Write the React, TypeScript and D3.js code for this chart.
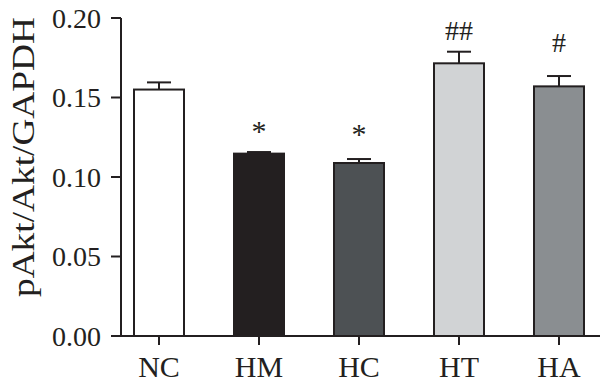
import React from 'react';
import * as d3 from 'd3';

// group labels, means, upper error (SEM) and significance marks
const groups = ['NC', 'HM', 'HC', 'HT', 'HA'];
const means = [0.155, 0.1147, 0.1088, 0.1715, 0.157];
const errors = [0.0045, 0.001, 0.0025, 0.0073, 0.0065];
const marks = ['', '*', '*', '##', '#'];
const markGap = [0, 11, 15, 12, 24];
const fills = ['#ffffff', '#231f20', '#4d5154', '#d1d3d5', '#8a8e91'];
const yTicks = [0, 0.05, 0.1, 0.15, 0.2];

export default function App() {
    const width = 600;
    const height = 389;
    const axisX = 121;
    const baseY = 336;

    const x = d3.scaleBand().domain(groups).range([109, 609]).paddingInner(0.5).paddingOuter(0.25);
    const y = d3.scaleLinear().domain([0, 0.2]).range([baseY, 18]);

    const font = "'Liberation Serif', 'Times New Roman', serif";
    const ink = '#231f20';
    const capHalf = 12;

    return (
        <svg width={width} height={height} style={{ position: 'absolute', left: 0, top: 0, fontFamily: font }}
            fill={ink}>
            {/* bars with error whiskers */}
            {groups.map((g, i) => {
                const x0 = x(g)!;
                const cx = x0 + x.bandwidth() / 2;
                const top = y(means[i]);
                const errTop = y(means[i] + errors[i]);
                return (
                    <g key={g}>
                        <line x1={cx} x2={cx} y1={top} y2={errTop} stroke={ink} strokeWidth={2} />
                        <line x1={cx - capHalf} x2={cx + capHalf} y1={errTop} y2={errTop} stroke={ink} strokeWidth={2} />
                        <rect x={x0} y={top} width={x.bandwidth()} height={baseY - top}
                            fill={fills[i]} stroke={ink} strokeWidth={2} />
                        {marks[i] && (
                            <text x={cx} y={errTop - markGap[i]} textAnchor="middle"
                                fontSize={marks[i] === '*' ? 30 : 28}>{marks[i]}</text>
                        )}
                    </g>
                );
            })}

            {/* y axis */}
            <line x1={axisX} x2={axisX} y1={y(0.2)} y2={baseY} stroke={ink} strokeWidth={2} />
            {yTicks.map(t => (
                <g key={t}>
                    <line x1={axisX - 10} x2={axisX} y1={y(t)} y2={y(t)} stroke={ink} strokeWidth={2} />
                    <text x={101} y={y(t)} dy="0.35em" textAnchor="end" fontSize={28}>{d3.format('.2f')(t)}</text>
                </g>
            ))}
            <text transform={`translate(34,157) rotate(-90)`} textAnchor="middle"
                fontSize={31} textLength={280} lengthAdjust="spacingAndGlyphs">pAkt/Akt/GAPDH</text>

            {/* x axis */}
            <line x1={axisX - 10} x2={width} y1={baseY} y2={baseY} stroke={ink} strokeWidth={2} />
            {groups.map(g => {
                const cx = x(g)! + x.bandwidth() / 2;
                return (
                    <g key={g}>
                        <line x1={cx} x2={cx} y1={baseY} y2={baseY + 9} stroke={ink} strokeWidth={2} />
                        <text x={cx} y={377} textAnchor="middle" fontSize={30}>{g}</text>
                    </g>
                );
            })}
        </svg>
    );
}
